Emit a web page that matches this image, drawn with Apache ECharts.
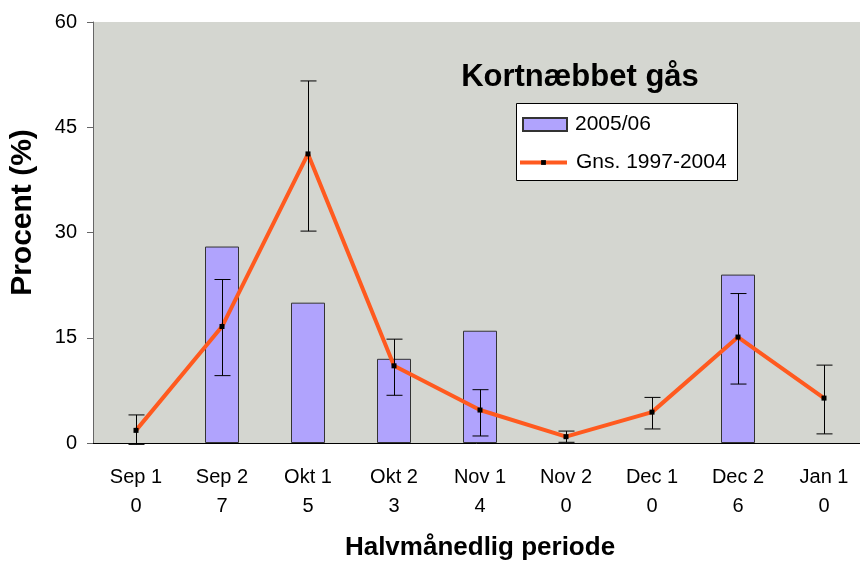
<!DOCTYPE html>
<html>
<head>
<meta charset="utf-8">
<script src="https://cdn.jsdelivr.net/npm/echarts@6/dist/echarts.min.js"></script>
<style>
  html, body { margin: 0; padding: 0; background: #fff; }
  #chart { width: 860px; height: 562px; }
</style>
</head>
<body>
<div id="chart"></div>
<script>
// periods and number of counts per period
const periods = ['Sep 1', 'Sep 2', 'Okt 1', 'Okt 2', 'Nov 1', 'Nov 2', 'Dec 1', 'Dec 2', 'Jan 1'];
const counts = [0, 7, 5, 3, 4, 0, 0, 6, 0];
const season2005 = [0, 28, 20, 12, 16, 0, 0, 24, 0];
const mean9704 = [1.8, 16.6, 41.2, 11, 4.7, 0.9, 4.4, 15.1, 6.4];
const errLow = [-0.2, 9.6, 30.2, 6.8, 1.0, 0.1, 2.0, 8.4, 1.3];
const errHigh = [4.0, 23.3, 51.6, 14.8, 7.6, 1.7, 6.5, 21.3, 11.1];
const yTicks = [0, 15, 30, 45, 60];

const font = 'Arial, "Liberation Sans", sans-serif';

const chart = echarts.init(document.getElementById('chart'));
chart.setOption({
  animation: false,
  textStyle: { fontFamily: font },
  title: {
    text: 'Kortnæbbet gås',
    left: 575,
    top: 57,
    textAlign: 'center',
    textStyle: { fontSize: 31, fontWeight: 'bold', color: '#000', fontFamily: font }
  },
  // legend box drawn behind the two legends
  graphic: [{
    type: 'rect',
    left: 516,
    top: 103,
    z: 5,
    shape: { width: 221, height: 77 },
    style: { fill: '#fff', stroke: '#000', lineWidth: 1 }
  }],
  legend: [
    {
      left: 522,
      top: 114,
      z: 10,
      itemWidth: 44,
      itemHeight: 13,
      itemGap: 0,
      padding: 0,
      textStyle: { fontSize: 21, color: '#000', fontFamily: font, padding: [0, 0, 0, 3] },
      data: [{ name: '2005/06', icon: 'rect' }]
    },
    {
      left: 518,
      top: 152,
      z: 10,
      itemWidth: 47,
      itemHeight: 6,
      itemGap: 0,
      padding: 0,
      textStyle: { fontSize: 21, color: '#000', fontFamily: font, padding: [0, 0, 0, 4] },
      data: [{ name: 'Gns. 1997-2004', lineStyle: { width: 4 } }]
    }
  ],
  grid: {
    left: 93,
    right: -7,
    top: 22,
    bottom: 119,
    outerBoundsMode: 'none',
    show: true,
    backgroundColor: '#d4d6d0',
    borderWidth: 0
  },
  xAxis: {
    type: 'category',
    data: periods,
    name: 'Halvmånedlig periode',
    nameLocation: 'middle',
    nameGap: 92,
    nameTextStyle: { fontSize: 26, fontWeight: 'bold', color: '#000', fontFamily: font },
    axisLine: { lineStyle: { color: '#000', width: 1 } },
    axisTick: { length: 8, lineStyle: { color: '#000' } },
    axisLabel: {
      fontSize: 20,
      color: '#000',
      lineHeight: 29,
      margin: 20,
      formatter: (v, i) => v + '\n' + counts[i]
    }
  },
  yAxis: {
    type: 'value',
    min: yTicks[0],
    max: yTicks[yTicks.length - 1],
    interval: 15,
    name: 'Procent (%)',
    nameLocation: 'middle',
    nameGap: 55,
    nameTextStyle: {
      fontSize: 30, fontWeight: 'bold', color: '#000', fontFamily: font,
      padding: [0, 0, 0, 40]
    },
    axisLine: { show: true, lineStyle: { color: '#666', width: 1 } },
    axisTick: { show: true, length: 6, lineStyle: { color: '#666' } },
    splitLine: { show: false },
    axisLabel: { fontSize: 20, color: '#000', margin: 16 }
  },
  series: [
    {
      name: '2005/06',
      type: 'bar',
      data: season2005.map(v => (v === 0 ? '-' : v)),
      barWidth: 34,
      itemStyle: { color: '#b0a3fd', borderColor: '#333', borderWidth: 1 }
    },
    {
      name: 'Gns. 1997-2004',
      type: 'line',
      data: mean9704,
      symbol: 'rect',
      symbolSize: 5,
      z: 3,
      lineStyle: { color: '#ff5a1f', width: 4 },
      itemStyle: { color: '#000' }
    },
    {
      name: 'err',
      type: 'custom',
      z: 4,
      data: periods.map((p, i) => [i, errLow[i], errHigh[i]]),
      renderItem: function (params, api) {
        const lo = api.coord([api.value(0), api.value(1)]);
        const hi = api.coord([api.value(0), api.value(2)]);
        const x = Math.round(lo[0]) + 0.5;
        const cap = 8;
        const st = { stroke: '#000', lineWidth: 1 };
        return {
          type: 'group',
          children: [
            { type: 'line', shape: { x1: x, y1: hi[1], x2: x, y2: lo[1] }, style: st },
            { type: 'line', shape: { x1: x - cap, y1: hi[1], x2: x + cap, y2: hi[1] }, style: st },
            { type: 'line', shape: { x1: x - cap, y1: lo[1], x2: x + cap, y2: lo[1] }, style: st }
          ]
        };
      }
    }
  ]
});
</script>
</body>
</html>
